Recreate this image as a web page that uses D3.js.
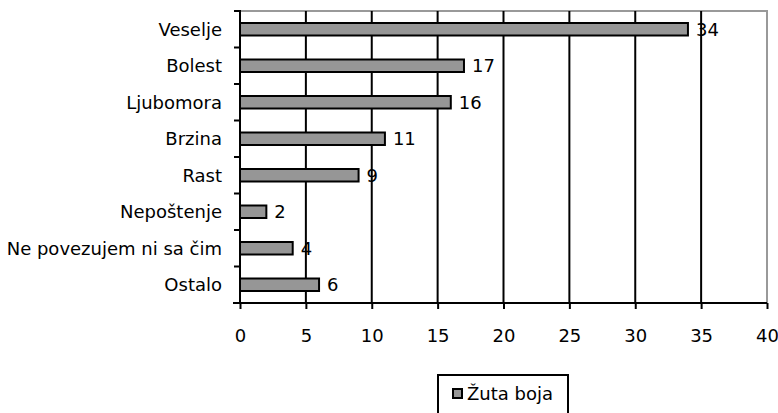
<!DOCTYPE html>
<html>
<head>
<meta charset="utf-8">
<script src="https://cdn.jsdelivr.net/npm/d3@7"></script>
<style>
  html, body { margin: 0; padding: 0; background: #fff; }
  svg { display: block; font-family: "DejaVu Sans", sans-serif; }
</style>
</head>
<body>
<svg id="chart" width="778" height="413"></svg>
<script>
// --- DATA ---
const categories = ["Veselje", "Bolest", "Ljubomora", "Brzina", "Rast", "Nepoštenje", "Ne povezujem ni sa čim", "Ostalo"];
const values = [34, 17, 16, 11, 9, 2, 4, 6];
const xTicks = [0, 5, 10, 15, 20, 25, 30, 35, 40];
const seriesName = "Žuta boja";

// --- LAYOUT ---
const width = 778, height = 413;
const marginLeft = 240, marginRight = 11, marginTop = 11, marginBottom = 110;
const plotRight = width - marginRight;
const plotBottom = height - marginBottom;

const svg = d3.select("#chart");

const x = d3.scaleLinear().domain([0, 40]).range([marginLeft, plotRight]);
const y = d3.scaleBand().domain(categories).range([marginTop, plotBottom]).padding(0);

const barH = 12.5;

// top & right plot border (gray)
svg.append("path")
    .attr("d", `M${marginLeft},${marginTop}H${plotRight}V${plotBottom}`)
    .attr("fill", "none")
    .attr("stroke", "#999")
    .attr("stroke-width", 2);

// vertical gridlines
svg.append("g")
    .selectAll("line")
    .data(xTicks.filter(t => t > 0 && t < 40))
    .join("line")
        .attr("x1", d => x(d)).attr("x2", d => x(d))
        .attr("y1", marginTop).attr("y2", plotBottom)
        .attr("stroke", "#000")
        .attr("stroke-width", 2);

// bars
svg.append("g")
    .selectAll("rect")
    .data(categories)
    .join("rect")
        .attr("x", x(0))
        .attr("y", d => y(d) + y.bandwidth() / 2 - barH / 2)
        .attr("width", (d, i) => x(values[i]) - x(0))
        .attr("height", barH)
        .attr("fill", "#969696")
        .attr("stroke", "#000")
        .attr("stroke-width", 2);

// value labels
svg.append("g")
    .selectAll("text")
    .data(categories)
    .join("text")
        .attr("x", (d, i) => x(values[i]) + 8)
        .attr("y", d => y(d) + y.bandwidth() / 2 + 6.5)
        .attr("font-size", 18)
        .attr("fill", "#000")
        .text((d, i) => values[i]);

// bottom axis
const xAxis = svg.append("g")
    .attr("transform", `translate(0,${plotBottom})`)
    .call(d3.axisBottom(x).tickValues(xTicks).tickSize(6).tickSizeOuter(0).tickPadding(20));
xAxis.select(".domain").remove();
xAxis.append("line")
    .attr("x1", marginLeft - 7).attr("x2", plotRight)
    .attr("stroke", "#000").attr("stroke-width", 2);
xAxis.selectAll(".tick line").attr("stroke", "#000").attr("stroke-width", 2);
xAxis.selectAll(".tick text")
    .attr("font-size", 18)
    .attr("font-family", "DejaVu Sans")
    .attr("fill", "#000");

// left axis: boundary ticks between categories
const yAxis = svg.append("g");
yAxis.append("line")
    .attr("x1", marginLeft).attr("x2", marginLeft)
    .attr("y1", marginTop - 1).attr("y2", plotBottom)
    .attr("stroke", "#000").attr("stroke-width", 2);
yAxis.selectAll(".bt")
    .data(categories)
    .join("line")
        .attr("class", "bt")
        .attr("x1", marginLeft - 6).attr("x2", marginLeft)
        .attr("y1", d => y(d)).attr("y2", d => y(d))
        .attr("stroke", "#000").attr("stroke-width", 2);
yAxis.selectAll("text")
    .data(categories)
    .join("text")
        .attr("x", marginLeft - 18)
        .attr("y", d => y(d) + y.bandwidth() / 2 + 6.5)
        .attr("text-anchor", "end")
        .attr("font-size", 18)
        .attr("fill", "#000")
        .text(d => d);

// legend
const legend = svg.append("g");
legend.append("rect")
    .attr("x", 438).attr("y", 375)
    .attr("width", 130).attr("height", 50)
    .attr("fill", "#fff")
    .attr("stroke", "#000").attr("stroke-width", 2);
legend.append("rect")
    .attr("x", 453).attr("y", 389)
    .attr("width", 9).attr("height", 9)
    .attr("fill", "#969696")
    .attr("stroke", "#000").attr("stroke-width", 2);
legend.append("text")
    .attr("x", 467).attr("y", 399.5)
    .attr("font-size", 18)
    .attr("fill", "#000")
    .text(seriesName);
</script>
</body>
</html>
